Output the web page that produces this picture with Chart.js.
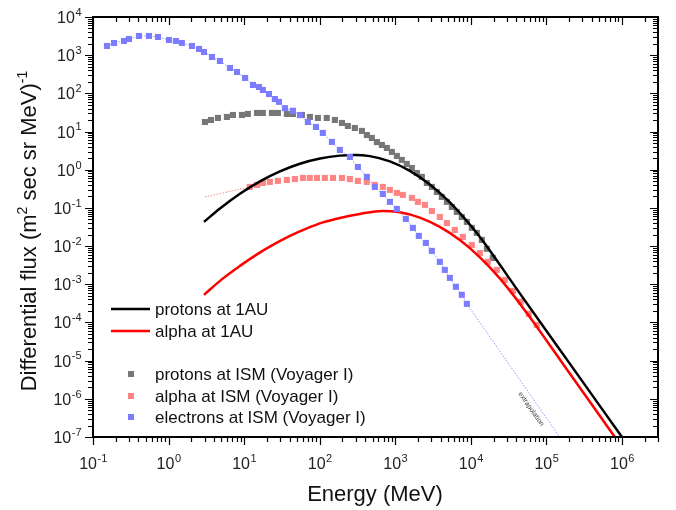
<!DOCTYPE html>
<html>
<head>
<meta charset="utf-8">
<script src="https://cdn.jsdelivr.net/npm/chart.js@4"></script>
<style>
  html,body{margin:0;padding:0;background:#fff;}
  #wrap{width:676px;height:510px;position:relative;}
</style>
</head>
<body>
<div id="wrap"><canvas id="fluxChart"></canvas></div>
<script>
// energies in MeV, fluxes in (m2 sec sr MeV)^-1
const protonsIsmE = [3.03,3.64,4.5,5.92,7.11,9.35,11.2,14.8,17.7,23.3,28,36.8,44.2,58.2,74.2,94.7,124,159,197,236,292,362,421,490,571,665,774,902,1050,1220,1420,1660,1930,2250,2620,3050,3550,4130,4820,5610,6530,7600,8860,10300,12000,14000,16300,19500];
const protonsIsmF = [17.8,20.1,22.7,24.1,27.2,27.2,28.9,30.7,30.7,30.7,30.7,28.9,28.9,27.2,24.1,22.7,22.7,20.1,16.8,14.0,12.4,10.4,8.1,6.8,5.3,4.46,3.72,2.93,2.30,1.81,1.42,1.11,0.82,0.65,0.45,0.355,0.262,0.194,0.144,0.106,0.0785,0.058,0.043,0.030,0.0222,0.0145,0.0085,0.0049];

const alphaIsmE = [11.9,14.8,17.7,21.9,28,36.8,47,60,74,92,117,150,197,251,320,420,537,685,849,1050,1260,1660,1990,2470,3050,3890,4820,6140,7840,10300,13200,16800,22100,28200,36000,45800,58500,74600];
const alphaIsmF = [0.355,0.40,0.45,0.48,0.51,0.54,0.57,0.61,0.61,0.61,0.61,0.61,0.61,0.57,0.51,0.48,0.40,0.355,0.296,0.247,0.219,0.183,0.144,0.12,0.083,0.058,0.040,0.0265,0.0174,0.0107,0.0066,0.00386,0.00238,0.0013,0.00067,0.00035,0.000168,0.000086];
const alphaLowE = [3.03,11.9];
const alphaLowF = [0.194,0.355];

const electronsIsmE = [0.153,0.19,0.257,0.299,0.406,0.551,0.724,1.01,1.25,1.5,2.04,2.53,2.94,3.75,4.78,6.49,8.04,10.3,13.1,15.7,17.7,21.3,25.5,28.9,34.7,44.2,54.7,69.8,89.2,110,145,185,251,320,421,537,685,849,1050,1380,1710,2050,2540,3050,3890,4530,5280,6340,7600,8860];
const electronsIsmF = [1742,2085,2354,2656,3184,3184,2995,2500,2354,2085,1742,1453,1213,897,705,462,363,253,166,147,123,96,71,60,41,35,27,17.8,13.2,9.2,5.35,3.30,2.16,1.18,0.65,0.355,0.232,0.144,0.094,0.0515,0.030,0.0185,0.0121,0.0075,0.00386,0.00238,0.00147,0.00086,0.00053,0.000307];
const electronsExtrapE = [8860,150000];
const electronsExtrapF = [0.000307,1e-7];

const protons1auE = [2.94,4.79,8.8,16.2,29.8,54.7,101,185,292,461,849,1560,2870,5280,9700,13200,44500,204000,1000000];
const protons1auF = [0.043,0.0964,0.234,0.494,0.902,1.43,1.96,2.34,2.44,2.27,1.66,0.936,0.41,0.139,0.0367,0.0172,0.000578,0.00000834,1e-7];

const alpha1auE = [2.94,5.25,8.8,14.8,24,40.4,67.7,110,185,340,685,1150,2110,3890,7150,13200,24200,53500,204000,804000];
const alpha1auF = [0.000528,0.001426,0.00303,0.00607,0.01074,0.0185,0.029,0.0417,0.0547,0.0697,0.0834,0.0767,0.0557,0.0318,0.01436,0.00509,0.001425,0.000192,0.00000459,1e-7];

const xMin = 0.1, xMax = 3e6, yMin = 1e-7, yMax = 1e4;
const xExps = [-1,0,1,2,3,4,5,6];
const yExps = [-7,-6,-5,-4,-3,-2,-1,0,1,2,3,4];

const FONT = '"Liberation Sans", Arial, sans-serif';
const GRAY = '#777777', PINK = '#ff8585', BLUE = '#7c7cff';

const pts = (xs, ys) => xs.map((x, i) => ({ x, y: ys[i] }));

// superscript label like 10^-3
function powText(ctx, base, exp, x, y, size, align){
  const bf = `${size}px ${FONT}`, ef = `${Math.round(size*0.68)}px ${FONT}`;
  ctx.font = bf; const wb = ctx.measureText(base).width;
  ctx.font = ef; const we = ctx.measureText(exp).width;
  let x0 = align === 'center' ? x - (wb+we)/2 : align === 'right' ? x - wb - we : x;
  ctx.textAlign = 'left'; ctx.textBaseline = 'alphabetic';
  ctx.font = bf; ctx.fillText(base, x0, y);
  ctx.font = ef; ctx.fillText(exp, x0 + wb + 0.5, y - size*0.45);
  return wb + we;
}

const frame = {
  id: 'frame',
  afterDraw(chart){
    const { ctx, chartArea: a, scales: { x, y } } = chart;
    ctx.save();
    ctx.fillStyle = '#000'; ctx.strokeStyle = '#000';
    // ticks
    ctx.lineWidth = 1.2;
    xExps.forEach(e => {
      for(let m = 1; m <= 9; m++){
        const v = m * Math.pow(10, e);
        if(v > xMax * 1.001) break;
        const px = Math.round(x.getPixelForValue(v)) + 0.5;
        const len = m === 1 ? 8 : 5;
        ctx.beginPath();
        ctx.moveTo(px, a.bottom); ctx.lineTo(px, a.bottom + len);
        ctx.moveTo(px, a.top); ctx.lineTo(px, a.top + len);
        ctx.stroke();
      }
    });
    yExps.forEach(e => {
      for(let m = 1; m <= 9; m++){
        const v = m * Math.pow(10, e);
        if(v > yMax * 1.001) break;
        const py = Math.round(y.getPixelForValue(v)) + 0.5;
        const len = m === 1 ? 8 : 5;
        ctx.beginPath();
        ctx.moveTo(a.left - len, py); ctx.lineTo(a.left, py);
        ctx.moveTo(a.right - len, py); ctx.lineTo(a.right, py);
        ctx.stroke();
      }
    });
    ctx.lineWidth = 2;
    ctx.strokeRect(a.left, a.top, a.right - a.left, a.bottom - a.top);

    // tick labels
    ctx.fillStyle = '#222';
    xExps.forEach(e => powText(ctx, '10', String(e), x.getPixelForValue(Math.pow(10, e)), 469, 16, 'center'));
    yExps.forEach(e => powText(ctx, '10', String(e), 81, y.getPixelForValue(Math.pow(10, e)) + 6, 16, 'right'));

    // axis titles
    ctx.fillStyle = '#111';
    ctx.font = `22px ${FONT}`; ctx.textAlign = 'center'; ctx.textBaseline = 'alphabetic';
    ctx.fillText('Energy (MeV)', 375, 501);
    ctx.save();
    ctx.translate(36, 231); ctx.rotate(-Math.PI/2);
    const parts = [['Differential flux (m', 0], ['2', 1], [' sec sr MeV)', 0], ['-1', 1]];
    let total = 0;
    parts.forEach(([t, s]) => { ctx.font = `${s ? 14 : 22}px ${FONT}`; total += ctx.measureText(t).width; });
    let cx = -total/2; ctx.textAlign = 'left';
    parts.forEach(([t, s]) => {
      ctx.font = `${s ? 14 : 22}px ${FONT}`;
      ctx.fillText(t, cx, s ? -9 : 0);
      cx += ctx.measureText(t).width;
    });
    ctx.restore();

    // legend
    ctx.font = `17px ${FONT}`; ctx.textAlign = 'left'; ctx.textBaseline = 'middle'; ctx.fillStyle = '#111';
    [['protons at 1AU', '#000', 309], ['alpha at 1AU', '#f00', 331]].forEach(([t, c, ly]) => {
      ctx.strokeStyle = c; ctx.lineWidth = 2.5;
      ctx.beginPath(); ctx.moveTo(111, ly); ctx.lineTo(150, ly); ctx.stroke();
      ctx.fillText(t, 155, ly + 1);
    });
    [['protons at ISM (Voyager I)', GRAY, 374], ['alpha at ISM (Voyager I)', PINK, 396], ['electrons at ISM (Voyager I)', BLUE, 417]].forEach(([t, c, ly]) => {
      ctx.fillStyle = c; ctx.fillRect(128, ly - 3, 6, 6);
      ctx.fillStyle = '#111'; ctx.fillText(t, 155, ly + 1);
    });

    // extrapolation note
    ctx.save();
    ctx.translate(531, 409); ctx.rotate(Math.atan2(133, 93));
    ctx.font = `7px ${FONT}`; ctx.fillStyle = '#444'; ctx.textAlign = 'center';
    ctx.fillText('extrapolation', 0, 0);
    ctx.restore();
    ctx.restore();
  }
};

new Chart(document.getElementById('fluxChart'), {
  type: 'scatter',
  data: {
    datasets: [
      { label: 'electrons at ISM (Voyager I)', data: pts(electronsIsmE, electronsIsmF), showLine: true,
        borderColor: BLUE, borderWidth: 0.8, borderDash: [1.5, 1.5], pointStyle: 'rect', pointRadius: 4.3,
        pointBorderWidth: 0, pointBackgroundColor: BLUE, order: 1 },
      { label: 'extrapolation', data: pts(electronsExtrapE, electronsExtrapF), showLine: true,
        borderColor: BLUE, borderWidth: 0.8, borderDash: [1.5, 1.5], pointRadius: 0, order: 2 },
      { label: 'alpha at 1AU', data: pts(alpha1auE, alpha1auF), showLine: true, borderColor: '#f00',
        borderWidth: 2.5, pointRadius: 0, cubicInterpolationMode: 'monotone', order: 3 },
      { label: 'protons at 1AU', data: pts(protons1auE, protons1auF), showLine: true, borderColor: '#000',
        borderWidth: 2.5, pointRadius: 0, cubicInterpolationMode: 'monotone', order: 4 },
      { label: 'alpha at ISM (Voyager I)', data: pts(alphaIsmE, alphaIsmF), showLine: false, pointStyle: 'rect',
        pointRadius: 4.3, pointBorderWidth: 0, pointBackgroundColor: PINK, order: 5 },
      { label: 'alpha low', data: pts(alphaLowE, alphaLowF), showLine: true, borderColor: PINK,
        borderWidth: 1, borderDash: [1.5, 1.5], pointRadius: 0, order: 6 },
      { label: 'protons at ISM (Voyager I)', data: pts(protonsIsmE, protonsIsmF), showLine: false, pointStyle: 'rect',
        pointRadius: 4.3, pointBorderWidth: 0, pointBackgroundColor: GRAY, order: 7 }
    ]
  },
  options: {
    responsive: true, maintainAspectRatio: false, animation: false,
    layout: { padding: { left: 93, right: 18, top: 17, bottom: 73 } },
    plugins: { legend: { display: false }, tooltip: { enabled: false } },
    scales: {
      x: { type: 'logarithmic', min: xMin, max: xMax, display: false },
      y: { type: 'logarithmic', min: yMin, max: yMax, display: false }
    }
  },
  plugins: [frame]
});
</script>
</body>
</html>
